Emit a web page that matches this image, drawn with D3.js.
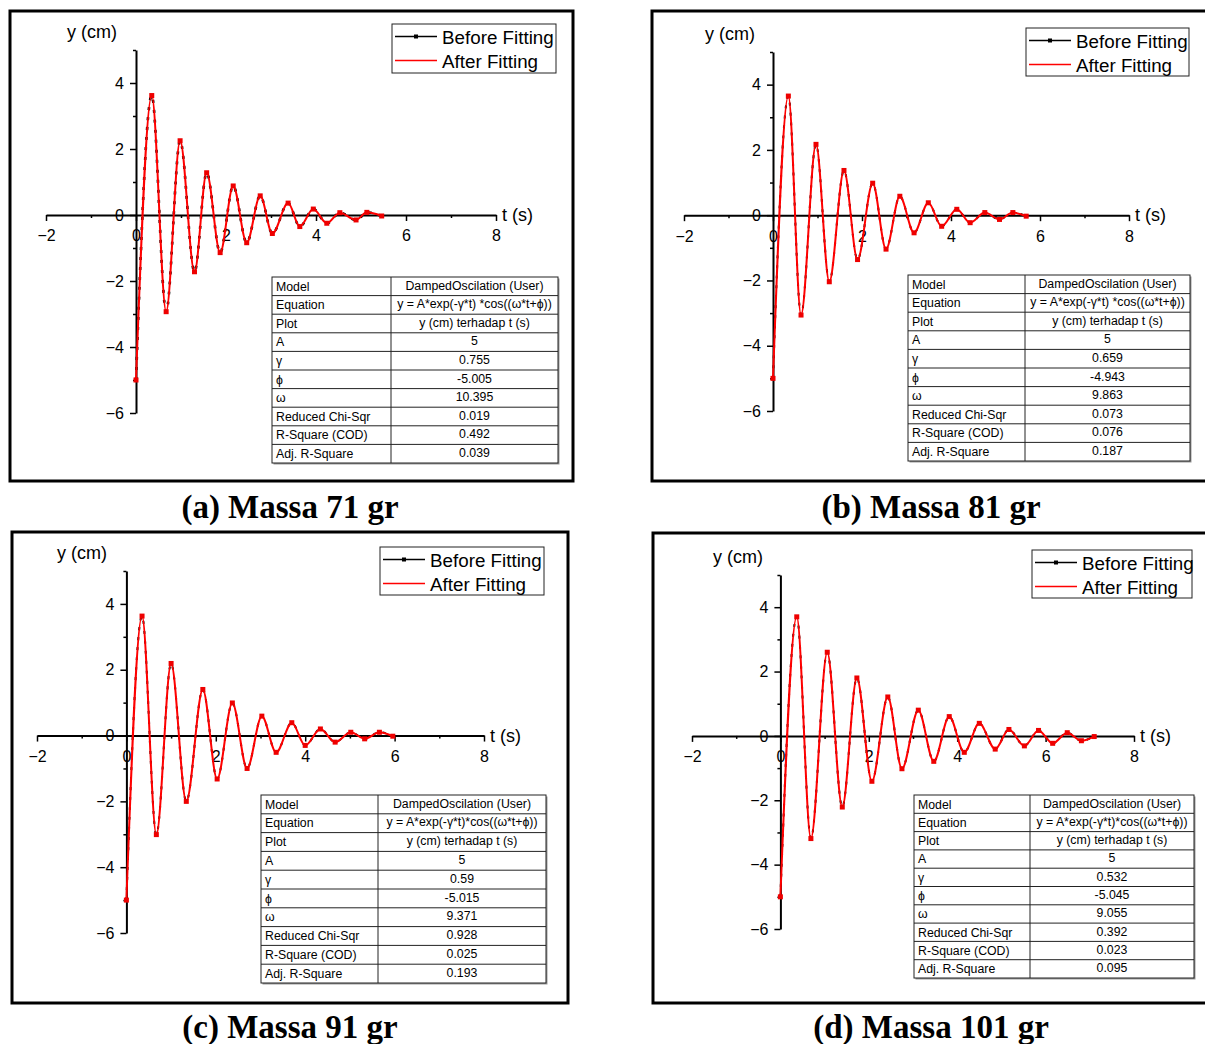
<!DOCTYPE html>
<html>
<head>
<meta charset="utf-8">
<script src="https://cdn.jsdelivr.net/npm/d3@7"></script>
<style>
  body { margin: 0; background: #fff; }
  svg { display: block; }
  text { font-family: "Liberation Sans", Arial, sans-serif; fill: #000; }
</style>
</head>
<body>
<svg id="chart" width="1205" height="1044"></svg>
<script>
var tA = [0, 0.35, 0.67, 0.98, 1.30, 1.57, 1.87, 2.16, 2.46, 2.76, 3.03, 3.38, 3.64, 3.94, 4.24, 4.53, 4.89, 5.13, 5.46];
var yA = [-5, 3.62, -2.93, 2.25, -1.72, 1.28, -1.14, 0.88, -0.84, 0.58, -0.56, 0.36, -0.35, 0.18, -0.25, 0.07, -0.15, 0.08, -0.03];

var tB = [0, 0.345, 0.63, 0.966, 1.265, 1.595, 1.90, 2.24, 2.54, 2.85, 3.17, 3.49, 3.79, 4.13, 4.43, 4.76, 5.09, 5.39, 5.69];
var yB = [-5, 3.65, -3.06, 2.17, -2.04, 1.37, -1.36, 0.98, -1.04, 0.58, -0.54, 0.38, -0.34, 0.18, -0.23, 0.08, -0.13, 0.08, -0.03];

var tC = [0, 0.35, 0.67, 1.0, 1.34, 1.71, 2.03, 2.37, 2.70, 3.03, 3.35, 3.70, 4.0, 4.34, 4.67, 5.02, 5.33, 5.66, 5.96];
var yC = [-5, 3.63, -3.01, 2.19, -2.0, 1.40, -1.32, 0.99, -1.0, 0.59, -0.51, 0.39, -0.30, 0.20, -0.20, 0.10, -0.10, 0.10, -0.02];

var tD = [0, 0.37, 0.69, 1.06, 1.40, 1.73, 2.07, 2.43, 2.75, 3.12, 3.47, 3.82, 4.16, 4.50, 4.86, 5.17, 5.52, 5.84, 6.16, 6.49, 6.81, 7.1];
var yD = [-5, 3.7, -3.19, 2.6, -2.21, 1.8, -1.41, 1.21, -1.02, 0.8, -0.79, 0.6, -0.51, 0.39, -0.41, 0.2, -0.31, 0.17, -0.23, 0.1, -0.15, -0.02];

var xMajor = [-2, 0, 2, 4, 6, 8];
var xMinor = [-1, 1, 3, 5, 7];
var yMajor = [-6, -4, -2, 0, 2, 4];
var yMinor = [-5, -3, -1, 1, 3, 5];

var legendLabels = ["Before Fitting", "After Fitting"];
var captions = ["(a) Massa 71 gr", "(b) Massa 81 gr", "(c) Massa 91 gr", "(d) Massa 101 gr"];

var tableLabels = ["Model", "Equation", "Plot", "A", "γ", "ϕ", "ω", "Reduced Chi-Sqr", "R-Square (COD)", "Adj. R-Square"];
var modelName = "DampedOscilation (User)";
var equations = ["y = A*exp(-γ*t) *cos((ω*t+ϕ))", "y = A*exp(-γ*t) *cos((ω*t+ϕ))",
                 "y = A*exp(-γ*t)*cos((ω*t+ϕ))", "y = A*exp(-γ*t)*cos((ω*t+ϕ))"];
var plotName = "y (cm) terhadap t (s)";
var ampVals = ["5", "5", "5", "5"];
var gammaVals = ["0.755", "0.659", "0.59", "0.532"];
var phiVals = ["-5.005", "-4.943", "-5.015", "-5.045"];
var omegaVals = ["10.395", "9.863", "9.371", "9.055"];
var chiVals = ["0.019", "0.073", "0.928", "0.392"];
var r2Vals = ["0.492", "0.076", "0.025", "0.023"];
var adjR2Vals = ["0.039", "0.187", "0.193", "0.095"];

// ---- layout of the four panels ----
var layout = [
  {t: tA, y: yA, frame: [10, 11, 563, 470], xr: [46, 496], yr: [413, 50], leg: [392, 24, 164, 49],
   tab: [272, 277, 286, 186, 119], ylab: [67, 38], cap: [290, 518], under: 2.6},
  {t: tB, y: yB, frame: [652, 11, 600, 470], xr: [684, 1129], yr: [411, 52], leg: [1026, 28, 163, 48],
   tab: [908, 275, 282, 186, 117], ylab: [705, 40], cap: [931, 518], under: 2},
  {t: tC, y: yC, frame: [12, 532, 556, 471], xr: [37, 484], yr: [933, 571], leg: [380, 547, 164, 48],
   tab: [261, 795, 285, 188, 117], ylab: [57, 559], cap: [290, 1038], under: 2},
  {t: tD, y: yD, frame: [653, 533, 600, 470], xr: [692, 1134], yr: [929, 575], leg: [1032, 550, 160, 48],
   tab: [914, 795, 280, 183, 116], ylab: [713, 563], cap: [931, 1038], under: 2}
];

var svg = d3.select("#chart");

function minusFmt(d) { return d3.format("")(d).replace("-", "−"); }

layout.forEach(function(p, i) {
  var g = svg.append("g");

  // frame
  g.append("rect")
    .attr("x", p.frame[0]).attr("y", p.frame[1])
    .attr("width", p.frame[2]).attr("height", p.frame[3])
    .attr("fill", "none").attr("stroke", "#000").attr("stroke-width", 3);

  var x = d3.scaleLinear().domain([-2, 8]).range(p.xr);
  var y = d3.scaleLinear().domain([-6, 5]).range(p.yr);

  // x axis through y = 0
  var gx = g.append("g").attr("transform", "translate(0," + y(0) + ")");
  gx.call(d3.axisBottom(x).tickValues(xMajor).tickSize(6).tickSizeOuter(0).tickPadding(9)
           .tickFormat(minusFmt));
  gx.append("g").call(d3.axisBottom(x).tickValues(xMinor).tickSize(3).tickFormat(""))
    .select(".domain").remove();

  // y axis through t = 0
  var gy = g.append("g").attr("transform", "translate(" + x(0) + ",0)");
  gy.call(d3.axisLeft(y).tickValues(yMajor).tickSize(6).tickSizeOuter(0).tickPadding(6)
           .tickFormat(minusFmt));
  gy.append("g").call(d3.axisLeft(y).tickValues(yMinor).tickSize(3).tickFormat(""))
    .select(".domain").remove();

  g.selectAll(".domain").attr("stroke-width", 2);
  g.selectAll(".tick line").attr("stroke-width", 1.5);
  g.selectAll(".tick text").style("font-size", "16px").attr("fill", "#000");

  // axis titles
  g.append("text").attr("x", p.ylab[0]).attr("y", p.ylab[1])
    .style("font-size", "18px").text("y (cm)");
  g.append("text").attr("x", x(8) + 6).attr("y", y(0) + 6)
    .style("font-size", "18px").text("t (s)");

  // curves
  var pts = d3.zip(p.t, p.y);
  var line = d3.line()
    .x(function(d) { return x(d[0]); })
    .y(function(d) { return y(d[1]); })
    .curve(d3.curveMonotoneX);

  g.append("path").datum(pts).attr("d", line)
    .attr("fill", "none").attr("stroke", "#000").attr("stroke-width", p.under)
    .attr("stroke-dasharray", "3,7");
  g.append("path").datum(pts).attr("d", line)
    .attr("fill", "none").attr("stroke", "#ff0000").attr("stroke-width", 2);
  g.selectAll(".pt").data(pts).enter().append("rect")
    .attr("x", function(d) { return x(d[0]) - 2.5; })
    .attr("y", function(d) { return y(d[1]) - 2.5; })
    .attr("width", 5).attr("height", 5)
    .attr("fill", "#ee0000");

  // legend
  var L = p.leg;
  var lg = g.append("g");
  lg.append("rect").attr("x", L[0]).attr("y", L[1]).attr("width", L[2]).attr("height", L[3])
    .attr("fill", "#fff").attr("stroke", "#222").attr("stroke-width", 1);
  legendLabels.forEach(function(lab, k) {
    var cy = L[1] + 12.5 + k * 24;
    lg.append("line").attr("x1", L[0] + 3).attr("x2", L[0] + 45).attr("y1", cy).attr("y2", cy)
      .attr("stroke", k === 0 ? "#000" : "#ff0000").attr("stroke-width", 1.5);
    if (k === 0) {
      lg.append("rect").attr("x", L[0] + 22).attr("y", cy - 2).attr("width", 4).attr("height", 4)
        .attr("fill", "#000");
    }
    lg.append("text").attr("x", L[0] + 50).attr("y", cy + 7)
      .style("font-size", "18.8px").text(lab);
  });

  // parameter table
  var T = p.tab;
  var rowVals = [modelName, equations[i], plotName, ampVals[i], gammaVals[i], phiVals[i],
                 omegaVals[i], chiVals[i], r2Vals[i], adjR2Vals[i]];
  var rh = T[3] / tableLabels.length;
  var tg = g.append("g");
  tg.append("rect").attr("x", T[0] + 1.5).attr("y", T[1] + 1.5).attr("width", T[2]).attr("height", T[3])
    .attr("fill", "#999");
  tg.append("rect").attr("x", T[0]).attr("y", T[1]).attr("width", T[2]).attr("height", T[3])
    .attr("fill", "#fff").attr("stroke", "#222").attr("stroke-width", 1);
  tg.append("line").attr("x1", T[0] + T[4]).attr("x2", T[0] + T[4])
    .attr("y1", T[1]).attr("y2", T[1] + T[3]).attr("stroke", "#222");
  tableLabels.forEach(function(lab, k) {
    var top = T[1] + k * rh;
    if (k > 0) {
      tg.append("line").attr("x1", T[0]).attr("x2", T[0] + T[2])
        .attr("y1", top).attr("y2", top).attr("stroke", "#222");
    }
    tg.append("text").attr("x", T[0] + 4).attr("y", top + 13.5)
      .style("font-size", "12.3px").text(lab);
    tg.append("text").attr("x", T[0] + T[4] + (T[2] - T[4]) / 2).attr("y", top + 12.5)
      .attr("text-anchor", "middle").style("font-size", "12.3px").text(rowVals[k]);
  });

  // caption
  svg.append("text").attr("x", p.cap[0]).attr("y", p.cap[1])
    .attr("text-anchor", "middle")
    .style("font-family", "'Liberation Serif', 'Times New Roman', serif")
    .style("font-weight", "bold").style("font-size", "33px")
    .text(captions[i]);
});
</script>
</body>
</html>
